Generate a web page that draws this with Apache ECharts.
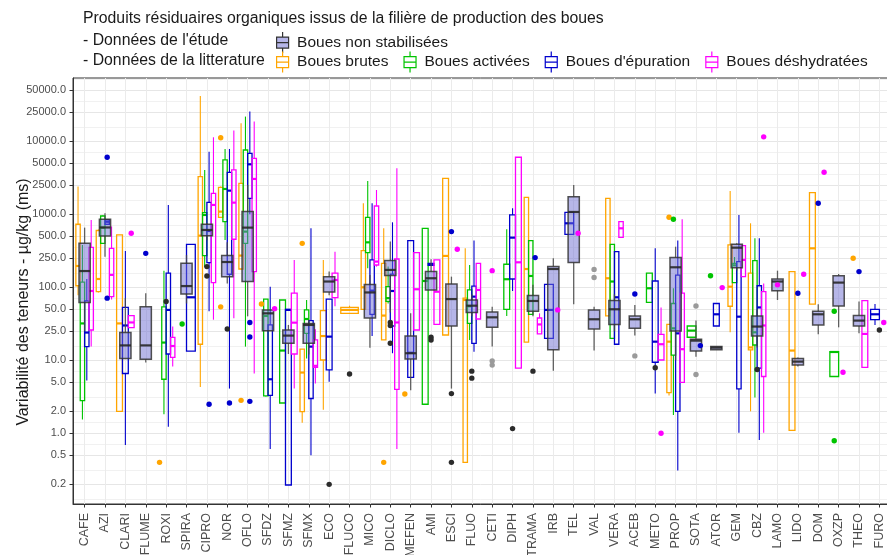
<!DOCTYPE html>
<html>
<head>
<meta charset="utf-8">
<script src="https://cdn.jsdelivr.net/npm/echarts@6/dist/echarts.min.js"></script>
<style>
  html, body { margin: 0; padding: 0; background: #ffffff; }
  #chart { width: 887px; height: 555px; }
</style>
</head>
<body>
<div id="chart"></div>
<script>
// Compounds on the x axis
const categories = ['CAFE', 'AZI', 'CLARI', 'FLUME', 'ROXI', 'SPIRA', 'CIPRO', 'NOR', 'OFLO', 'SFDZ',
  'SFMZ', 'SFMX', 'ECO', 'FLUCO', 'MICO', 'DICLO', 'MEFEN', 'AMI', 'ESCI', 'FLUO',
  'CETI', 'DIPH', 'TRAMA', 'IRB', 'TEL', 'VAL', 'VERA', 'ACEB', 'METO', 'PROP',
  'SOTA', 'ATOR', 'GEM', 'CBZ', 'LAMO', 'LIDO', 'DOM', 'OXZP', 'THEO', 'FURO'];

// Log-scale axis (µg/kg ms)
const yTicks = [0.2, 0.5, 1, 2, 5, 10, 25, 50, 100, 250, 500, 1000, 2500, 5000, 10000, 25000, 50000];
const yLimits = [0.1076, 73600];

// Study data – sludge not stabilised: [compound, min, Q1, median, Q3, max]
const etudeBoxes = [
  ['CAFE', 25, 62, 167, 400, 657],
  ['AZI', 263, 505, 660, 855, 1030],
  ['CLARI', 10.6, 10.6, 16, 24, 71],
  ['FLUME', 9.3, 10.3, 16, 54, 83],
  ['SPIRA', 60, 81, 104, 213, 277],
  ['CIPRO', 440, 510, 610, 729, 760],
  ['NOR', 113, 140, 222, 272, 413],
  ['OFLO', 40, 120, 657, 1088, 2520],
  ['SFDZ', 25, 25.5, 44, 49, 49],
  ['SFMZ', 12.2, 17.1, 21.8, 26, 30.5],
  ['SFMX', 12, 17.1, 30.5, 32, 36],
  ['ECO', 78, 86, 120, 140, 164],
  ['MICO', 14.9, 38, 85, 109, 147],
  ['DICLO', 45, 145, 173, 232, 423],
  ['MEFEN', 3.9, 10.4, 12.5, 21.5, 44],
  ['AMI', 92, 92, 133, 164, 242],
  ['ESCI', 4.1, 29.5, 69, 111, 140],
  ['FLUO', 40, 45, 56, 67, 80],
  ['CETI', 15.4, 28.3, 38.8, 46, 54],
  ['TRAMA', 40, 47, 65, 77, 108],
  ['IRB', 7.2, 13.9, 178, 192, 250],
  ['TEL', 58.5, 218, 1076, 1745, 2525],
  ['VAL', 13.6, 26.9, 36.5, 49, 54],
  ['VERA', 25, 31, 50, 66, 80],
  ['ACEB', 21.8, 27.4, 36.5, 40.5, 57],
  ['PROP', 10, 25.2, 188, 255, 360],
  ['SOTA', 11.2, 13.4, 18.6, 19.4, 35],
  ['ATOR', 13.9, 13.9, 14.9, 15.5, 15.5],
  ['GEM', 170, 186, 349, 388, 400],
  ['CBZ', 15, 21.5, 29, 40.5, 50],
  ['LAMO', 67, 90, 120, 130, 169],
  ['LIDO', 8.2, 8.6, 9.6, 10.6, 10.9],
  ['DOM', 22.7, 30.5, 42.7, 47, 58.5],
  ['OXZP', 28.3, 55.5, 116, 144, 152],
  ['THEO', 23.4, 29.5, 35, 41, 64]
];
// Study single values and outliers: [compound, value]
const etudePoints = [
  ['ROXI', 64], ['FLUCO', 6.5], ['DIPH', 1.16], ['METO', 7.9], ['FURO', 26],
  ['CIPRO', 192], ['CIPRO', 143], ['NOR', 26.9], ['ECO', 0.2],
  ['DICLO', 33], ['DICLO', 30], ['DICLO', 17.1], ['AMI', 20.7], ['AMI', 19],
  ['ESCI', 3.5], ['ESCI', 0.4], ['FLUO', 7.1], ['FLUO', 5.7], ['TRAMA', 7.1], ['CBZ', 7.5]
];
const etudePointsLight = [
  ['CETI', 9.8], ['CETI', 8.6], ['VAL', 176], ['VAL', 136], ['ACEB', 11.5], ['SOTA', 55.5], ['SOTA', 6.4]
];

// Literature – raw sludge
const brutesBoxes = [
  ['CAFE', 78, 105, 196, 730, 2400],
  ['AZI', 85, 87, 130, 600, 620],
  ['CLARI', 2.0, 2.0, 32, 521, 521],
  ['CIPRO', 4.3, 16.6, 510, 3280, 41800],
  ['NOR', 900, 910, 1088, 2344, 2400],
  ['OFLO', 178, 178, 272, 2660, 17700],
  ['SFMX', 1.4, 1.98, 6.8, 14.2, 14.2],
  ['ECO', 2.1, 10.1, 21.5, 48, 237],
  ['FLUCO', 44, 44, 49, 53, 56],
  ['MICO', 50, 50, 100, 318, 1415],
  ['DICLO', 19, 19, 41, 213, 643],
  ['ESCI', 22.2, 22.2, 269, 3110, 3110],
  ['FLUO', 0.4, 0.4, 67, 71, 342],
  ['TRAMA', 17.7, 17.7, 178, 1710, 1710],
  ['VERA', 40.5, 40.5, 133, 1657, 1657],
  ['PROP', 3.3, 3.6, 18, 31, 31],
  ['GEM', 24.2, 55, 102, 380, 2090],
  ['CBZ', 2.0, 13.9, 15, 156, 753],
  ['LIDO', 1.1, 1.1, 13.6, 164, 164],
  ['DOM', 59, 59, 342, 1980, 1980]
];
const brutesPoints = [
  ['ROXI', 0.4], ['SFDZ', 59], ['MEFEN', 3.46], ['THEO', 250],
  ['NOR', 11200], ['NOR', 54], ['OFLO', 2.83], ['SFMX', 400], ['DICLO', 0.4], ['PROP', 910]
];

// Literature – activated sludge
const activeesBoxes = [
  ['CAFE', 1.55, 2.8, 32, 118, 380],
  ['AZI', 400, 400, 657, 948, 960],
  ['ROXI', 1.82, 5.5, 17.5, 54, 169],
  ['CIPRO', 190, 272, 979, 1054, 4050],
  ['NOR', 445, 794, 2223, 5550, 7850],
  ['OFLO', 15.4, 400, 579, 7600, 21800],
  ['SFDZ', 3.2, 3.25, 40.5, 69, 69],
  ['SFMZ', 2.6, 2.6, 13.6, 67, 67],
  ['SFMX', 10.6, 23.4, 36.8, 49, 67],
  ['MICO', 182, 298, 413, 910, 2860],
  ['DICLO', 60, 64, 71, 102, 192],
  ['AMI', 2.5, 2.5, 122, 643, 643],
  ['FLUO', 19, 32, 55, 92, 202],
  ['DIPH', 40.5, 50, 129, 207, 623],
  ['TRAMA', 42.7, 42.7, 143, 436, 436],
  ['VERA', 20, 20, 120, 388, 388],
  ['METO', 62, 62, 97, 156, 156],
  ['PROP', 1.78, 11.8, 27.4, 60, 97],
  ['SOTA', 20.7, 20.7, 25.5, 29.5, 29.5],
  ['GEM', 116, 116, 200, 213, 260],
  ['CBZ', 3.1, 16.2, 24.2, 232, 469],
  ['OXZP', 6.0, 6.0, 13, 13.1, 13.1]
];
const activeesPoints = [
  ['SPIRA', 31.5], ['ATOR', 144], ['PROP', 855], ['OXZP', 47], ['OXZP', 0.79]
];

// Literature – sewage sludge
const epurationBoxes = [
  ['CAFE', 5.3, 15.4, 24, 65, 130],
  ['AZI', 730, 730, 790, 836, 840],
  ['CLARI', 0.69, 6.6, 30, 53, 315],
  ['ROXI', 1.23, 12.2, 49, 156, 1343],
  ['SPIRA', 13.4, 13.4, 73, 388, 388],
  ['CIPRO', 47, 218, 591, 1460, 7210],
  ['NOR', 4.1, 151, 2110, 3760, 7850],
  ['OFLO', 1000, 1657, 4840, 6850, 25500],
  ['SFDZ', 0.61, 3.3, 5.5, 30.5, 102],
  ['SFMZ', 0.196, 0.196, 49, 50, 50],
  ['SFMX', 0.5, 3.0, 15.4, 35, 643],
  ['ECO', 5.1, 7.4, 21.1, 69, 69],
  ['MICO', 21.5, 42.7, 90, 237, 1415],
  ['DICLO', 12.5, 29.5, 89, 152, 777],
  ['MEFEN', 5.85, 5.85, 12.7, 436, 436],
  ['AMI', 200, 200, 206, 212, 212],
  ['FLUO', 13.1, 17.1, 74.5, 104, 436],
  ['DIPH', 89, 130, 479, 979, 1208],
  ['IRB', 20, 20, 49, 110, 110],
  ['TEL', 532, 532, 753, 1065, 1065],
  ['VERA', 16.6, 16.6, 73, 308, 308],
  ['METO', 3.5, 9.4, 18, 122, 342],
  ['PROP', 0.31, 2.0, 23.4, 147, 436],
  ['ATOR', 29.5, 29.5, 42.7, 60, 60],
  ['GEM', 1.02, 4.05, 39.6, 225, 979],
  ['CBZ', 0.81, 7.8, 53, 105, 469],
  ['FURO', 30.5, 36, 42.7, 50, 59]
];
const epurationPoints = [
  ['FLUME', 292], ['TRAMA', 255], ['ESCI', 579], ['ACEB', 81], ['SOTA', 15.9], ['LIDO', 83],
  ['DOM', 1415], ['THEO', 164], ['AZI', 6040], ['AZI', 71], ['CIPRO', 2.5], ['NOR', 2.6],
  ['OFLO', 33], ['OFLO', 20.9], ['OFLO', 2.74]
];

// Literature – dewatered sludge
const deshydrateesBoxes = [
  ['CAFE', 15.4, 26, 89, 353, 836],
  ['AZI', 68, 74.5, 148, 342, 680],
  ['CLARI', 28, 28, 33, 41, 41],
  ['ROXI', 8.2, 11, 15.7, 20.6, 29],
  ['CIPRO', 36, 116, 1343, 1940, 11350],
  ['NOR', 37.6, 455, 1445, 4050, 14000],
  ['OFLO', 6.6, 164, 3050, 5850, 18600],
  ['SFMZ', 4.1, 12.2, 32.8, 83, 237],
  ['SFMX', 4.8, 8.0, 8.4, 19, 26.6],
  ['ECO', 55, 72, 126, 156, 308],
  ['MICO', 192, 202, 225, 1300, 2150],
  ['DICLO', 0.61, 4.0, 33, 244, 4270],
  ['MEFEN', 26, 26, 94, 298, 298],
  ['AMI', 31, 31, 87, 237, 237],
  ['FLUO', 36.8, 36.8, 92, 213, 213],
  ['DIPH', 7.8, 7.8, 220, 6040, 6040],
  ['TRAMA', 23, 23, 31, 38, 44],
  ['VERA', 484, 484, 643, 794, 794],
  ['METO', 10.1, 10.1, 16.6, 22.7, 53],
  ['PROP', 5.0, 5.0, 14.2, 83, 855],
  ['GEM', 140, 140, 237, 372, 372],
  ['CBZ', 1.02, 6.0, 30, 87, 113],
  ['THEO', 8.0, 8.0, 23, 65.7, 65.7]
];
const deshydrateesPoints = [
  ['SFDZ', 51], ['ESCI', 332], ['CETI', 169], ['IRB', 49], ['TEL', 550], ['ATOR', 99],
  ['LAMO', 108], ['LIDO', 151], ['DOM', 3760], ['OXZP', 6.85], ['FURO', 33],
  ['CLARI', 551], ['METO', 1.0], ['CBZ', 11500]
];

// ---------------------------------------------------------------------------
const FONT = '"Liberation Sans", Arial, Helvetica, sans-serif';
const log10 = Math.log10;
const catIndex = {};
categories.forEach((c, i) => { catIndex[c] = i; });

const DODGE_WIDTH = 0.86;   // share of a category taken by the literature boxes
const ETUDE_WIDTH = 0.55;   // width of the study box
const ETUDE_NAME = 'Boues non stabilisées';

const litterature = [
  { name: 'Boues brutes', color: '#FFA500', boxes: brutesBoxes, points: brutesPoints },
  { name: 'Boues activées', color: '#00C400', boxes: activeesBoxes, points: activeesPoints },
  { name: "Boues d'épuration", color: '#0000CD', boxes: epurationBoxes, points: epurationPoints },
  { name: 'Boues déshydratées', color: '#FF00FF', boxes: deshydrateesBoxes, points: deshydrateesPoints }
];

// literature groups present in each category -> dodge slots
const present = categories.map(() => []);
litterature.forEach((g, gi) => {
  g.boxes.concat(g.points).forEach(d => {
    const ci = catIndex[d[0]];
    if (present[ci].indexOf(gi) < 0) present[ci].push(gi);
  });
});
present.forEach(list => list.sort((a, b) => a - b));

function litSlot(gi) {
  return function (ci) {
    const list = present[ci];
    const w = DODGE_WIDTH / list.length;
    return { x: ci - DODGE_WIDTH / 2 + (list.indexOf(gi) + 0.5) * w, w: w };
  };
}
function etudeSlot(ci) { return { x: ci, w: ETUDE_WIDTH }; }

function boxData(rows, place) {
  return rows.map(r => {
    const p = place(catIndex[r[0]]);
    return [p.x, log10(r[1]), log10(r[2]), log10(r[3]), log10(r[4]), log10(r[5]), p.w];
  });
}
function pointData(rows, place) {
  return rows.map(r => [place(catIndex[r[0]]).x, log10(r[1])]);
}

function renderBox(st) {
  return function (params, api) {
    const x = api.value(0);
    const lo = api.coord([x, api.value(1)]);
    const q1 = api.coord([x, api.value(2)]);
    const md = api.coord([x, api.value(3)]);
    const q3 = api.coord([x, api.value(4)]);
    const hi = api.coord([x, api.value(5)]);
    const half = api.size([api.value(6), 0])[0] / 2;
    const cx = md[0];
    return {
      type: 'group',
      children: [
        { type: 'line', shape: { x1: cx, y1: q3[1], x2: cx, y2: hi[1] },
          style: { stroke: st.whisker, lineWidth: st.whiskerWidth } },
        { type: 'line', shape: { x1: cx, y1: q1[1], x2: cx, y2: lo[1] },
          style: { stroke: st.whisker, lineWidth: st.whiskerWidth } },
        { type: 'rect', shape: { x: cx - half, y: q3[1], width: half * 2, height: Math.max(q1[1] - q3[1], 0.5) },
          style: { fill: st.fill, stroke: st.stroke, lineWidth: st.lineWidth } },
        { type: 'line', shape: { x1: cx - half, y1: md[1], x2: cx + half, y2: md[1] },
          style: { stroke: st.median, lineWidth: st.medianWidth } }
      ]
    };
  };
}
function renderPoint(color, r) {
  return function (params, api) {
    const p = api.coord([api.value(0), api.value(1)]);
    return { type: 'circle', shape: { cx: p[0], cy: p[1], r: r }, style: { fill: color } };
  };
}

const BOX_DIMS = ['x', 'lo', 'q1', 'med', 'q3', 'hi', 'w'];
const series = [];
litterature.forEach((g, gi) => {
  series.push({
    type: 'custom', name: g.name, z: 2, clip: true,
    dimensions: BOX_DIMS, encode: { x: 0, y: [1, 2, 3, 4, 5] },
    itemStyle: { color: g.color },
    renderItem: renderBox({ fill: 'rgba(255,255,255,0)', stroke: g.color, lineWidth: 1.3,
      whisker: g.color, whiskerWidth: 1.1, median: g.color, medianWidth: 2.2 }),
    data: boxData(g.boxes, litSlot(gi))
  });
});
series.push({
  type: 'custom', name: ETUDE_NAME, z: 3, clip: true,
  dimensions: BOX_DIMS, encode: { x: 0, y: [1, 2, 3, 4, 5] },
  itemStyle: { color: 'rgba(110,110,210,0.5)' },
  renderItem: renderBox({ fill: 'rgba(110,110,210,0.5)', stroke: 'rgba(51,51,51,0.85)', lineWidth: 1.5,
    whisker: 'rgba(70,70,70,0.85)', whiskerWidth: 1.3, median: 'rgba(40,40,40,0.9)', medianWidth: 2.2 }),
  data: boxData(etudeBoxes, etudeSlot)
});
litterature.forEach((g, gi) => {
  series.push({
    type: 'custom', name: g.name, z: 4, clip: true,
    dimensions: ['x', 'v'], encode: { x: 0, y: 1 },
    itemStyle: { color: g.color },
    renderItem: renderPoint(g.color, 2.7),
    data: pointData(g.points, litSlot(gi))
  });
});
series.push({
  type: 'custom', name: ETUDE_NAME, z: 4, clip: true,
  dimensions: ['x', 'v'], encode: { x: 0, y: 1 },
  renderItem: renderPoint('#2b2b2b', 2.7),
  data: pointData(etudePoints, etudeSlot)
});
series.push({
  type: 'custom', name: ETUDE_NAME, z: 4, clip: true,
  dimensions: ['x', 'v'], encode: { x: 0, y: 1 },
  renderItem: renderPoint('#9a9a9a', 2.7),
  data: pointData(etudePointsLight, etudeSlot)
});

// axis ticks and grid positions
const catTicks = categories.map((c, i) => i);
const yTickLogs = yTicks.map(v => log10(v));
const yMinorLogs = [];
{
  const ext = [2 * yTickLogs[0] - yTickLogs[1]].concat(yTickLogs,
    [2 * yTickLogs[yTickLogs.length - 1] - yTickLogs[yTickLogs.length - 2]]);
  for (let i = 0; i < ext.length - 1; i++) yMinorLogs.push((ext[i] + ext[i + 1]) / 2);
}
const yMin = log10(yLimits[0]);
const yMax = log10(yLimits[1]);

// legend glyph: a small box plot
const BOX_ICON = 'path://M6,0L6,5M0,5L12,5L12,16L0,16ZM0,10.5L12,10.5M6,16L6,21';
const LEGEND_TEXT = { fontSize: 15.5, color: '#1a1a1a', fontFamily: FONT };
const TITLE_TEXT = { fontSize: 15.8, fontWeight: 'normal', color: '#1a1a1a', fontFamily: FONT };

const option = {
  animation: false,
  backgroundColor: '#ffffff',
  textStyle: { fontFamily: FONT },
  title: [
    { text: 'Produits résiduaires organiques issus de la filière de production des boues',
      left: 83, top: 11, padding: 0, textStyle: TITLE_TEXT },
    { text: "- Données de l'étude", left: 83, top: 33, padding: 0, textStyle: TITLE_TEXT },
    { text: '- Données de la litterature', left: 83, top: 52.5, padding: 0, textStyle: TITLE_TEXT }
  ],
  legend: [
    { left: 276, top: 31.5, padding: 0, itemWidth: 19, itemHeight: 21, selectedMode: false,
      textStyle: LEGEND_TEXT,
      data: [{ name: ETUDE_NAME, icon: BOX_ICON,
        itemStyle: { color: 'rgba(110,110,210,0.5)', borderColor: '#333333', borderWidth: 1.2 } }] },
    { left: 276, top: 51, padding: 0, itemWidth: 19, itemHeight: 21, itemGap: 15, selectedMode: false,
      textStyle: LEGEND_TEXT,
      data: litterature.map(g => ({ name: g.name, icon: BOX_ICON,
        itemStyle: { color: 'rgba(255,255,255,0)', borderColor: g.color, borderWidth: 1.2 } })) }
  ],
  graphic: [{
    type: 'text', x: 24, y: 302, rotation: Math.PI / 2,
    style: { text: 'Variabilité des teneurs - µg/kg (ms)', fontSize: 16, fontFamily: FONT,
      fill: '#1a1a1a', align: 'center', verticalAlign: 'middle' }
  }],
  grid: { left: 73, right: -4, top: 78, bottom: 51, show: true, borderColor: '#333333', borderWidth: 1,
    backgroundColor: 'rgba(0,0,0,0)', containLabel: false, outerBoundsMode: 'none' },
  xAxis: {
    type: 'value', min: -0.57, max: 39.57,
    axisLine: { show: true, onZero: false, lineStyle: { color: '#333333', width: 1 } },
    axisTick: { show: true, customValues: catTicks, length: 3.5, lineStyle: { color: '#333333' } },
    axisLabel: { customValues: catTicks, rotate: 90, margin: 9, fontSize: 12.5, color: '#4d4d4d',
      fontFamily: FONT, formatter: v => categories[Math.round(v)] },
    splitLine: { show: true, lineStyle: { color: '#ebebeb', width: 1 } }
  },
  yAxis: [
    {
      type: 'value', min: yMin, max: yMax,
      axisLine: { show: true, onZero: false, lineStyle: { color: '#333333', width: 1 } },
      axisTick: { show: true, customValues: yTickLogs, length: 3.5, lineStyle: { color: '#333333' } },
      axisLabel: { customValues: yTickLogs, margin: 7, fontSize: 11, color: '#4d4d4d', fontFamily: FONT,
        formatter: v => Math.pow(10, v).toFixed(1) },
      splitLine: { show: true, lineStyle: { color: '#e6e6e6', width: 1 } }
    },
    {
      type: 'value', min: yMin, max: yMax, position: 'left',
      axisLine: { show: false, onZero: false },
      axisTick: { show: false, customValues: yMinorLogs },
      axisLabel: { show: false, customValues: yMinorLogs },
      splitLine: { show: true, lineStyle: { color: '#eeeeee', width: 0.8 } }
    }
  ],
  series: series
};

const chart = echarts.init(document.getElementById('chart'), null, { renderer: 'canvas' });
chart.setOption(option);
</script>
</body>
</html>
